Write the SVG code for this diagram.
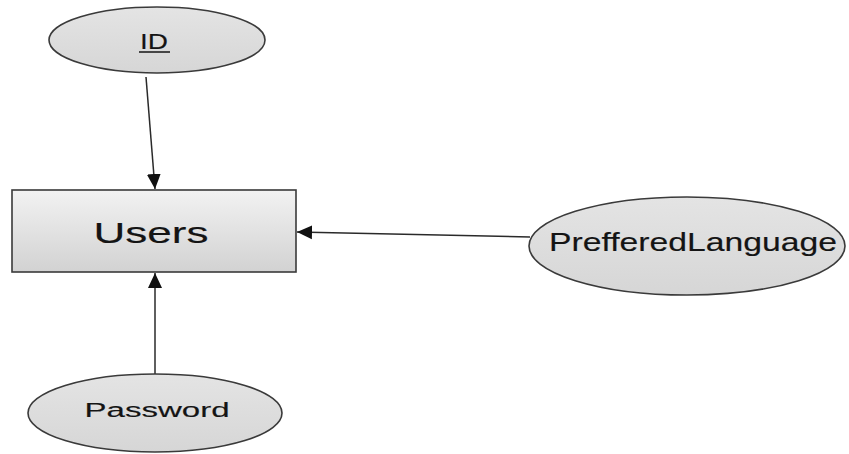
<svg xmlns="http://www.w3.org/2000/svg" width="849" height="454" viewBox="0 0 849 454">
  <style>
    .shape { stroke: #3a3a3a; stroke-width: 1.6; }
    .entity { fill: url(#entityFill); }
    .attr { fill: url(#attrFill); }
    .label { font-family: "Liberation Sans", Arial, sans-serif; fill: #141414; stroke: #141414; stroke-width: 0.15; text-anchor: middle; }
    .link { stroke: #2a2a2a; stroke-width: 1.5; fill: none; marker-end: url(#arrow); }
  </style>
  <defs>
    <linearGradient id="entityFill" x1="0" y1="0" x2="0" y2="1">
      <stop offset="0" stop-color="#f2f2f2"/>
      <stop offset="1" stop-color="#d2d2d2"/>
    </linearGradient>
    <linearGradient id="attrFill" x1="0" y1="0" x2="0" y2="1">
      <stop offset="0" stop-color="#e4e4e4"/>
      <stop offset="1" stop-color="#d6d6d6"/>
    </linearGradient>
    <marker id="arrow" markerUnits="userSpaceOnUse" markerWidth="16" markerHeight="16" viewBox="0 0 16 16" refX="15" refY="8" orient="auto">
      <path d="M0,1 L15,8 L0,15 Z" fill="#111"/>
    </marker>
  </defs>

  <rect width="849" height="454" fill="#ffffff"/>

  <!-- connectors: attribute -> entity -->
  <g id="connectors">
    <line class="link" x1="146" y1="77" x2="155" y2="189"/>
    <line class="link" x1="530" y1="237" x2="297" y2="232"/>
    <line class="link" x1="155" y1="374" x2="155" y2="273"/>
  </g>

  <g id="users">
    <rect class="shape entity" x="12" y="190" width="284" height="82"/>
    <text class="label" x="151" y="243" font-size="29" textLength="115" lengthAdjust="spacingAndGlyphs">Users</text>
  </g>

  <g id="attr-id">
    <ellipse class="shape attr" cx="157" cy="40" rx="108" ry="33"/>
    <text class="label" x="154" y="49" font-size="22" textLength="28" lengthAdjust="spacingAndGlyphs">ID</text>
    <line x1="139" y1="52" x2="170" y2="52" stroke="#141414" stroke-width="1.5"/>
  </g>

  <g id="attr-preferred-language">
    <ellipse class="shape attr" cx="687" cy="246" rx="158" ry="49"/>
    <text class="label" x="693" y="251" font-size="25" textLength="288" lengthAdjust="spacingAndGlyphs">PrefferedLanguage</text>
  </g>

  <g id="attr-password">
    <ellipse class="shape attr" cx="155" cy="413" rx="127" ry="39"/>
    <text class="label" x="157" y="417" font-size="20" textLength="145" lengthAdjust="spacingAndGlyphs">Password</text>
  </g>
</svg>
